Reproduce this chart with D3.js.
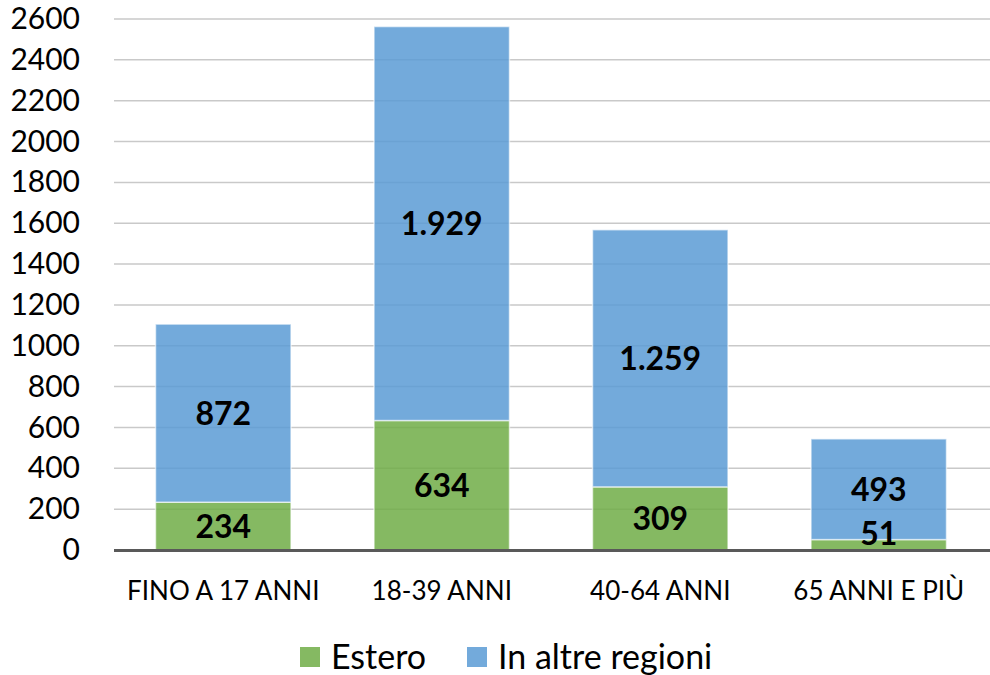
<!DOCTYPE html>
<html>
<head>
<meta charset="utf-8">
<script src="https://cdn.jsdelivr.net/npm/d3@7"></script>
<style>
  body { margin: 0; background: #fff; }
  #vis { width: 990px; height: 675px; }
  text { font-family: Lato, "Open Sans", sans-serif; }
</style>
</head>
<body>
<div id="vis"></div>
<script>
var categories = ['FINO A 17 ANNI', '18-39 ANNI', '40-64 ANNI', '65 ANNI E PIÙ'];
var estero = [234, 634, 309, 51];
var altreRegioni = [872, 1929, 1259, 493];
var seriesNames = ['Estero', 'In altre regioni'];
var yTicks = d3.range(0, 2601, 200);

var width = 990, height = 675;
var margin = { top: 19, right: 2, bottom: 125, left: 114 };
var innerW = width - margin.left - margin.right;
var innerH = height - margin.top - margin.bottom;

var colours = ['#70AD47', '#5B9BD5'];

var svg = d3.select('#vis')
    .append('svg')
    .attr('width', width)
    .attr('height', height);

var g = svg.append('g')
    .attr('transform', 'translate(' + margin.left + ',' + margin.top + ')');

var x = d3.scaleBand()
    .domain(categories)
    .range([0, innerW])
    .paddingInner(0.38)
    .paddingOuter(0.19);

var y = d3.scaleLinear()
    .domain([0, 2600])
    .range([innerH, 0]);

// gridlines
g.append('g')
    .selectAll('line')
    .data(yTicks.filter(function(d) { return d > 0; }))
    .enter()
    .append('line')
    .attr('x1', 0)
    .attr('x2', innerW + margin.right)
    .attr('y1', function(d) { return y(d); })
    .attr('y2', function(d) { return y(d); })
    .attr('stroke', '#c9c9c9')
    .attr('stroke-width', 1.5);

// y axis labels
var yAxis = d3.axisLeft(y).tickValues(yTicks).tickFormat(d3.format('d')).tickSize(0).tickPadding(34);
g.append('g')
    .call(yAxis)
    .call(function(s) { s.select('.domain').remove(); })
    .selectAll('text')
    .attr('font-size', 30)
    .attr('fill', '#000');

var rows = categories.map(function(c, i) {
    return { cat: c, Estero: estero[i], 'In altre regioni': altreRegioni[i] };
});
var stacked = d3.stack().keys(seriesNames)(rows);

var layers = g.selectAll('.layer')
    .data(stacked)
    .enter()
    .append('g')
    .attr('class', 'layer')
    .attr('fill', function(d, i) { return colours[i]; })
    .attr('fill-opacity', 0.85);

layers.selectAll('rect')
    .data(function(d) { return d; })
    .enter()
    .append('rect')
    .attr('x', function(d) { return x(d.data.cat); })
    .attr('width', x.bandwidth())
    .attr('y', function(d) { return y(d[1]); })
    .attr('height', function(d) { return y(d[0]) - y(d[1]); })
    .attr('stroke', '#ffffff')
    .attr('stroke-opacity', 0.6)
    .attr('stroke-width', 1.5);

// value labels
var fmt = d3.formatLocale({ decimal: ',', thousands: '.', grouping: [3], currency: ['', '€'] }).format(',d');
stacked.forEach(function(layer) {
    g.selectAll(null)
        .data(layer)
        .enter()
        .append('text')
        .attr('x', function(d) { return x(d.data.cat) + x.bandwidth() / 2; })
        .attr('y', function(d) {
            var c = (y(d[0]) + y(d[1])) / 2;
            return Math.min(c, innerH - 17);
        })
        .attr('dy', '0.36em')
        .attr('text-anchor', 'middle')
        .attr('font-size', 32)
        .attr('font-weight', 'bold')
        .attr('fill', '#000')
        .text(function(d) { return fmt(d[1] - d[0]); });
});

// baseline
g.append('line')
    .attr('x1', 0)
    .attr('x2', innerW + margin.right)
    .attr('y1', innerH + 0.5)
    .attr('y2', innerH + 0.5)
    .attr('stroke', '#595959')
    .attr('stroke-width', 3);

// x axis labels
var xAxis = d3.axisBottom(x).tickSize(0).tickPadding(32);
g.append('g')
    .attr('transform', 'translate(0,' + innerH + ')')
    .call(xAxis)
    .call(function(s) { s.select('.domain').remove(); })
    .selectAll('text')
    .attr('font-size', 26)
    .attr('fill', '#000');

// legend
var legendX = [300, 467];
var legend = svg.append('g')
    .selectAll('g')
    .data(seriesNames)
    .enter()
    .append('g')
    .attr('transform', function(d, i) { return 'translate(' + legendX[i] + ',657)'; });

legend.append('rect')
    .attr('x', 0)
    .attr('y', -10)
    .attr('width', 20)
    .attr('height', 20)
    .attr('fill', function(d, i) { return colours[i]; })
    .attr('fill-opacity', 0.85);

legend.append('text')
    .attr('x', 31)
    .attr('y', 0)
    .attr('dy', '0.35em')
    .attr('font-size', 34)
    .attr('fill', '#000')
    .text(function(d) { return d; });
</script>
</body>
</html>
